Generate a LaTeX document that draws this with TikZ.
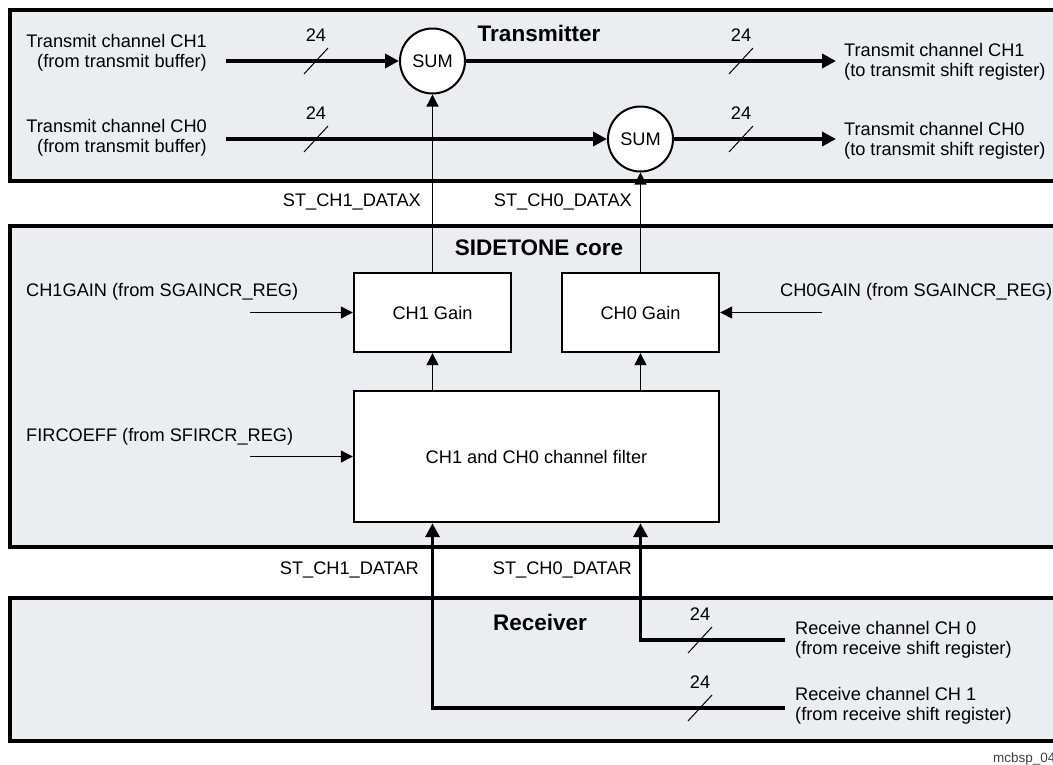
\documentclass[tikz,border=0pt]{standalone}
\usepackage{fontspec}
\setmainfont{Liberation Sans}
\usetikzlibrary{arrows.meta,positioning}
\definecolor{panelgray}{RGB}{236,237,240}

\begin{document}
\begin{tikzpicture}[
    x=1pt, y=-1pt,
    font=\fontsize{18.2}{20}\selectfont,
    panel/.style={draw, line width=3.5pt, fill=panelgray, minimum width=1060pt, anchor=north west, inner sep=0pt, outer sep=0pt},
    box/.style={draw, line width=2.4pt, fill=white, align=center, inner sep=0pt},
    sum/.style={draw, circle, line width=2pt, fill=white, minimum size=65pt, inner sep=0pt},
    heading/.style={font=\fontsize{22.5}{26}\selectfont\bfseries, inner sep=0pt},
    art/.style={inner sep=0pt},
    bus/.style={line width=3.6pt},
    busarrow/.style={bus, -{Triangle[length=14pt, width=14pt]}},
    arrow/.style={line width=1.3pt, -{Triangle[length=12pt, width=12pt]}},
    slash/.style={line width=1pt}
]
\fill[white] (0,0) rectangle (1053,764);
\useasboundingbox (0,0) rectangle (1053,764);

\node[panel, minimum height=171pt] (txpanel) at (10,10) {};
\node[panel, minimum height=321pt] (stpanel) at (10,226) {};
\node[panel, minimum height=143pt] (rxpanel) at (10,598) {};

\node[heading] (txtitle) at (539,33) {Transmitter};
\node[heading] (sttitle) at (539,248) {SIDETONE core};
\node[heading] (rxtitle) at (540,622) {Receiver};

\node[sum] (sum1) at (432.5,61) {SUM};
\node[sum] (sum0) at (640.5,139) {SUM};
\node[box, minimum width=157pt, minimum height=79pt] (ch1gain) at (432.5,312.5) {CH1 Gain};
\node[box, minimum width=157pt, minimum height=79pt] (ch0gain) at (640.5,312.5) {CH0 Gain};
\node[box, minimum width=365pt, minimum height=131pt] (filter) at (536.5,456.5) {CH1 and CH0 channel filter};

\node[art, anchor=east, align=right] (tx1src) at (207,53) {Transmit channel CH1\\(from transmit buffer)};
\node[art, anchor=east, align=right] (tx0src) at (207,138) {Transmit channel CH0\\(from transmit buffer)};
\node[art, anchor=west, align=left] (tx1dst) at (844,62) {Transmit channel CH1\\(to transmit shift register)};
\node[art, anchor=west, align=left] (tx0dst) at (844,141) {Transmit channel CH0\\(to transmit shift register)};
\node[art, anchor=west] (gain1src) at (26,292) {CH1GAIN (from SGAINCR\_REG)};
\node[art, anchor=west] (gain0src) at (780,292) {CH0GAIN (from SGAINCR\_REG)};
\node[art, anchor=west] (coeffsrc) at (26,437) {FIRCOEFF (from SFIRCR\_REG)};
\node[art, anchor=west, align=left] (rx0src) at (795,640) {Receive channel CH 0\\(from receive shift register)};
\node[art, anchor=west, align=left] (rx1src) at (795,706) {Receive channel CH 1\\(from receive shift register)};
\node[art, anchor=east] (datax1) at (421,202) {ST\_CH1\_DATAX};
\node[art, anchor=east] (datax0) at (632,202) {ST\_CH0\_DATAX};
\node[art, anchor=east] (datar1) at (419,570) {ST\_CH1\_DATAR};
\node[art, anchor=east] (datar0) at (632,570) {ST\_CH0\_DATAR};
\node[art, anchor=west, font=\fontsize{13.5}{14}\selectfont, text=black!75] (figid) at (993,759) {mcbsp\_04};

\coordinate (tx1in) at (226,61);
\coordinate (tx1out) at (836,61);
\coordinate (tx0in) at (226,139);
\coordinate (tx0out) at (836,139);
\coordinate (gain1in) at (250,312.5);
\coordinate (gain0in) at (822,312.5);
\coordinate (coeffin) at (250,456.5);
\coordinate (rx0in) at (785,640);
\coordinate (rx1in) at (785,708);

\draw[busarrow] (tx1in) -- (sum1);
\draw[busarrow] (sum1) -- (tx1out);
\draw[busarrow] (tx0in) -- (sum0);
\draw[busarrow] (sum0) -- (tx0out);
\draw[arrow] (ch1gain) -- (sum1);
\draw[arrow] (ch0gain) -- (sum0);
\draw[arrow] (gain1in) -- (ch1gain);
\draw[arrow] (gain0in) -- (ch0gain);
\draw[arrow] (coeffin) -- (filter);
\draw[arrow] (filter.north -| ch1gain) -- (ch1gain.south);
\draw[arrow] (filter.north -| ch0gain) -- (ch0gain.south);
\draw[busarrow] (rx0in) -| (filter.south -| ch0gain);
\draw[busarrow] (rx1in) -| (filter.south -| ch1gain);

\coordinate (w1) at (316,61);
\coordinate (w2) at (741,61);
\coordinate (w3) at (316,139);
\coordinate (w4) at (741,139);
\coordinate (w5) at (700,640);
\coordinate (w6) at (700,708);
\foreach \w in {w1,w2,w3,w4,w5,w6}{
  \draw[slash] ([shift={(-12,13)}]\w) -- ([shift={(12,-13)}]\w);
  \node[art] (\w lbl) at ([shift={(0,-26)}]\w) {24};
}
\end{tikzpicture}
\end{document}
